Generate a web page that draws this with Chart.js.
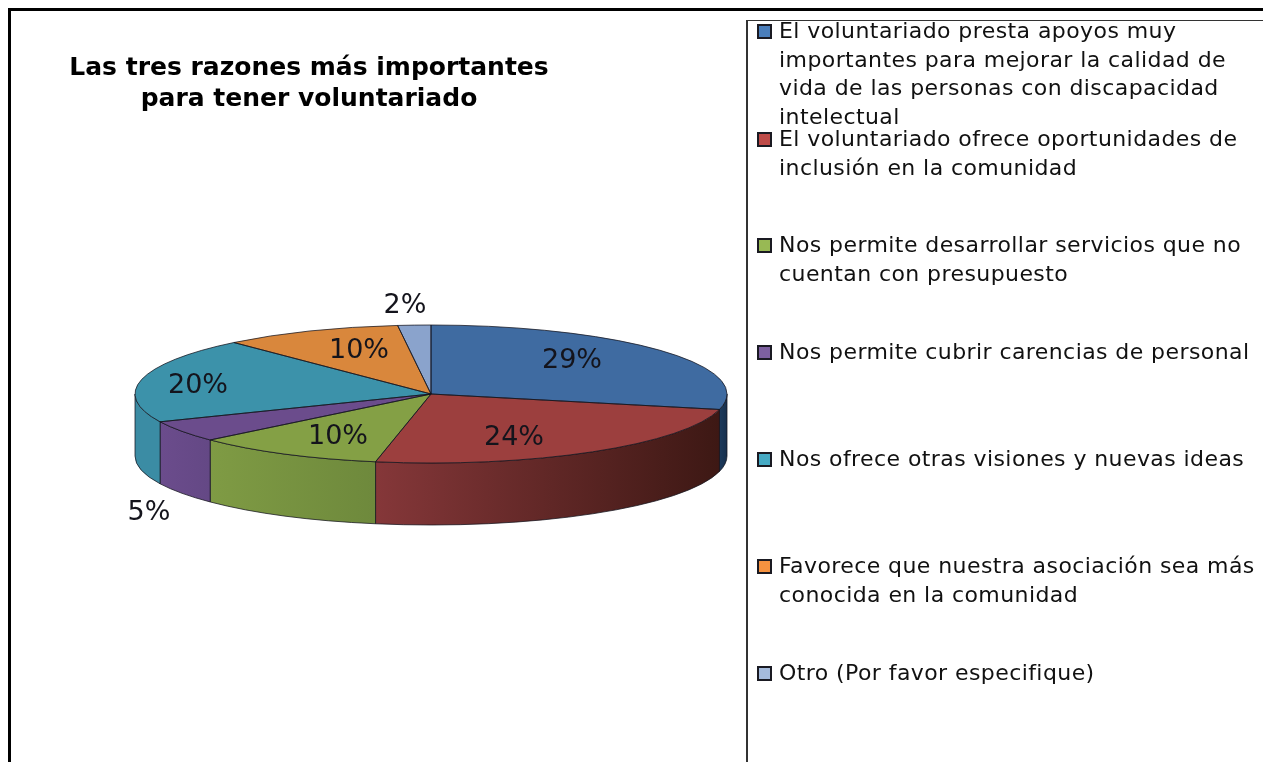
<!DOCTYPE html>
<html lang="es">
<head>
<meta charset="utf-8">
<title>Las tres razones más importantes para tener voluntariado</title>
<script src="https://cdn.jsdelivr.net/npm/chart.js@4"></script>
<style>
  html, body { margin: 0; padding: 0; background: #fff; overflow: hidden; }
  #wrap { position: relative; width: 1263px; height: 762px; overflow: hidden; }
  #pie { position: absolute; left: 0; top: 0; }
  #frame { position: absolute; left: 8px; top: 8px; width: 1300px; height: 800px; border: 3px solid #000; }
  #legendBox { position: absolute; left: 746px; top: 20px; width: 600px; height: 800px; border: 1px solid #333; border-left-width: 2px; }
  #title { position: absolute; left: 9px; width: 600px; top: 51px; text-align: center; font: bold 25px/31px "DejaVu Sans", sans-serif; color: #000; white-space: nowrap; }
  .item { position: absolute; left: 779px; font: 22px/28.5px "DejaVu Sans", sans-serif; letter-spacing: 0.42px; color: #111; white-space: pre; }
  .swatch { position: absolute; left: 757px; width: 11px; height: 11px; border: 2px solid #1a1a22; }
</style>
</head>
<body>
<div id="wrap">
  <canvas id="pie" width="1263" height="762"></canvas>
  <div id="frame"></div>
  <div id="legendBox"></div>
  <div id="title">Las tres razones más importantes<br>para tener voluntariado</div>
  <div id="legend"></div>
</div>
<script>
  const categories = [
    "El voluntariado presta apoyos muy\nimportantes para mejorar la calidad de\nvida de las personas con discapacidad\nintelectual",
    "El voluntariado ofrece oportunidades de\ninclusión en la comunidad",
    "Nos permite desarrollar servicios que no\ncuentan con presupuesto",
    "Nos permite cubrir carencias de personal",
    "Nos ofrece otras visiones y nuevas ideas",
    "Favorece que nuestra asociación sea más\nconocida en la comunidad",
    "Otro (Por favor especifique)"
  ];
  // the labels show them rounded
  const values = [28.6, 24.4, 10.4, 5.0, 20.0, 9.8, 1.8];
  const topColors = ["#3f6ba1", "#9c3f3e", "#84a045", "#6b4c8c", "#3c92aa", "#d9873c", "#8aa3cc"];
  const swatchColors = ["#4a7ebb", "#be4b48", "#98b954", "#7d60a0", "#46aac4", "#f59240", "#a5bbdc"];
  // side wall colours, left end then right end of each visible wall
  const sideLeft = ["#1c3a5c", "#853739", "#7f9b44", "#6b4c8c", "#3b8ca4", "#000", "#000"];
  const sideRight = ["#17304d", "#3d1814", "#6e893c", "#644885", "#3b8ca4", "#000", "#000"];
  // label centres, by slice, and legend rows
  const labelX = [572, 514, 338, 149, 198, 359, 405];
  const labelY = [361, 438, 437, 513, 386, 351, 306];
  const legendTops = [17, 125, 231, 338, 445, 552, 659];

  const squash = 69 / 296;
  const depth = 62;

  const legendEl = document.getElementById("legend");
  categories.forEach((text, i) => {
    const item = document.createElement("div");
    item.className = "item";
    item.style.top = legendTops[i] + "px";
    item.textContent = text;
    legendEl.appendChild(item);

    const swatch = document.createElement("div");
    swatch.className = "swatch";
    swatch.style.top = (legendTops[i] + 7) + "px";
    swatch.style.background = swatchColors[i];
    legendEl.appendChild(swatch);
  });

  const tiltPlugin = {
    id: "tilt",
    beforeDatasetsDraw(chart) {
      const ctx = chart.ctx;
      const arcs = chart.getDatasetMeta(0).data;
      const cx = arcs[0].x, cy = arcs[0].y;
      const rx = arcs[0].outerRadius, ry = rx * squash;

      ctx.save();
      // walls first, only the part of each slice that faces the viewer
      arcs.forEach((arc, i) => {
        const from = Math.max(arc.startAngle, 0);
        const to = Math.min(arc.endAngle, Math.PI);
        if (to <= from) return;
        const xa = cx + rx * Math.cos(to), xb = cx + rx * Math.cos(from);
        const grad = ctx.createLinearGradient(xa, 0, xb, 0);
        grad.addColorStop(0, sideLeft[i]);
        grad.addColorStop(1, sideRight[i]);
        ctx.beginPath();
        ctx.ellipse(cx, cy, rx, ry, 0, from, to);
        ctx.ellipse(cx, cy + depth, rx, ry, 0, to, from, true);
        ctx.closePath();
        ctx.fillStyle = grad;
        ctx.fill();
        ctx.strokeStyle = "rgba(20,20,30,0.75)";
        ctx.lineWidth = 1;
        ctx.stroke();
      });

      ctx.translate(cx, cy);
      ctx.scale(1, squash);
      ctx.translate(-cx, -cy);
    },
    afterDatasetsDraw(chart) {
      const ctx = chart.ctx;
      ctx.restore();

      const arcs = chart.getDatasetMeta(0).data;
      const cx = arcs[0].x, cy = arcs[0].y;
      const rx = arcs[0].outerRadius, ry = rx * squash;

      ctx.save();
      ctx.strokeStyle = "rgba(20,20,30,0.75)";
      ctx.lineWidth = 1;
      arcs.forEach(arc => {
        ctx.beginPath();
        ctx.moveTo(cx, cy);
        ctx.ellipse(cx, cy, rx, ry, 0, arc.startAngle, arc.endAngle);
        ctx.closePath();
        ctx.stroke();
      });

      ctx.fillStyle = "#14141c";
      ctx.font = '27px "DejaVu Sans", sans-serif';
      ctx.textAlign = "center";
      ctx.textBaseline = "middle";
      values.forEach((v, i) => {
        ctx.fillText(Math.round(v) + "%", labelX[i], labelY[i]);
      });
      ctx.restore();
    }
  };

  new Chart(document.getElementById("pie").getContext("2d"), {
    type: "pie",
    data: {
      labels: categories,
      datasets: [{
        data: values,
        backgroundColor: topColors,
        borderWidth: 0
      }]
    },
    options: {
      responsive: false,
      animation: false,
      layout: { padding: { left: 135, right: 536, top: 98, bottom: 72 } },
      plugins: {
        legend: { display: false },
        tooltip: { enabled: false }
      }
    },
    plugins: [tiltPlugin]
  });
</script>
</body>
</html>
